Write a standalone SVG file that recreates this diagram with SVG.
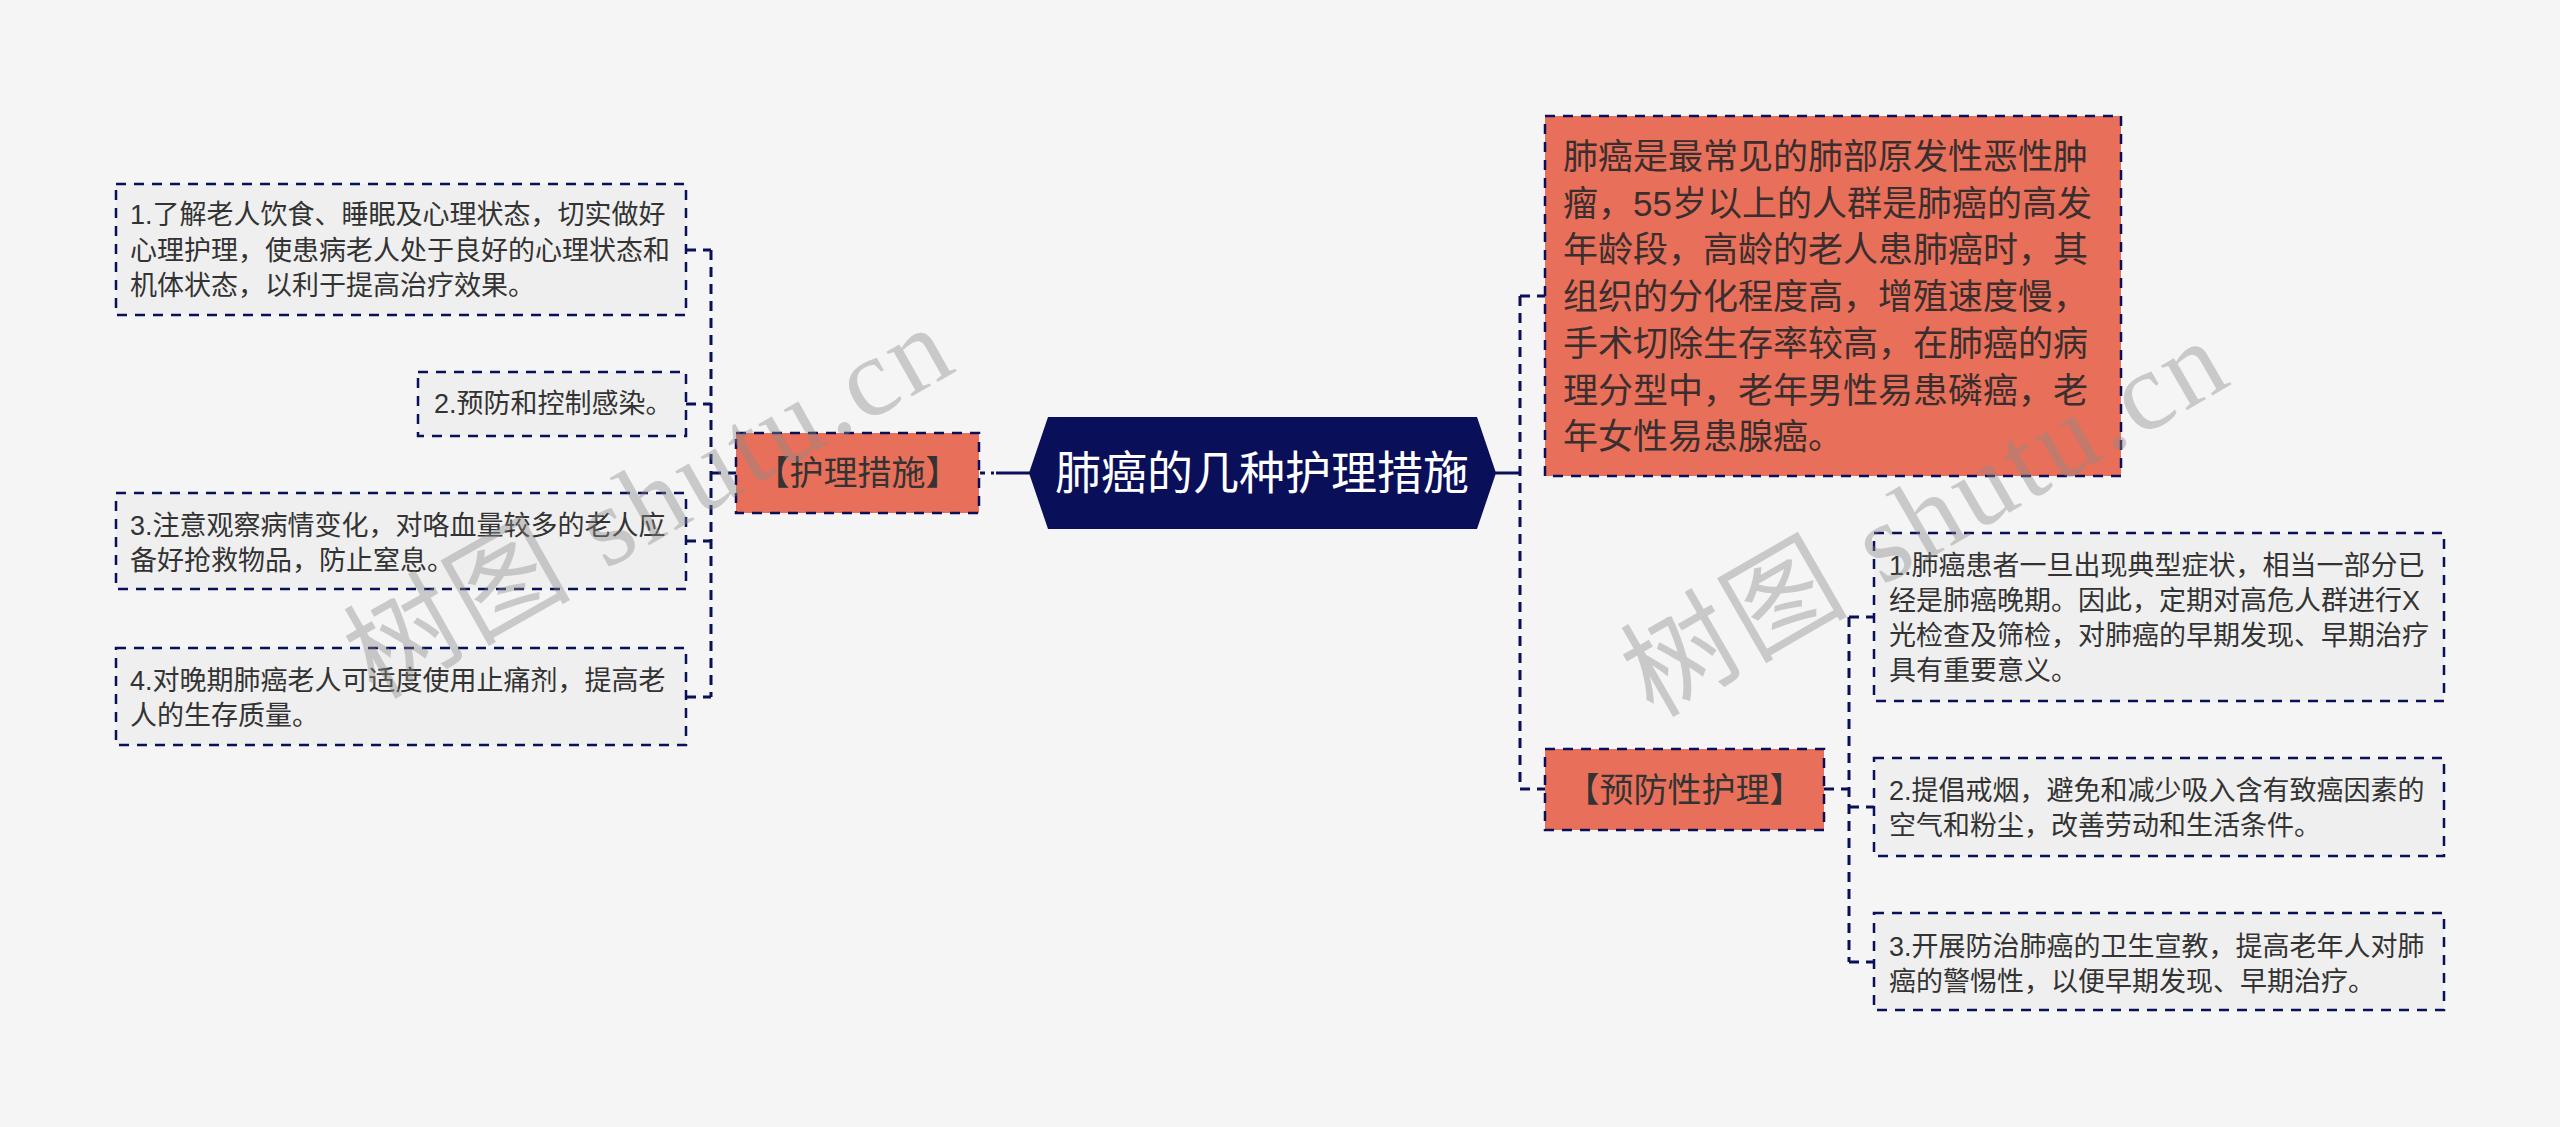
<svg xmlns="http://www.w3.org/2000/svg" width="2560" height="1127" viewBox="0 0 2560 1127">
<style>
  .leaf { fill: #EFEFEF; stroke: #0A0F5A; stroke-width: 2.5; stroke-dasharray: 10 8; }
  .sub { fill: #E8705A; stroke: #0A0F5A; stroke-width: 2.5; stroke-dasharray: 10 8; }
  .conn { fill: none; stroke: #0A0F5A; stroke-width: 3; stroke-dasharray: 10 7; }
  .solid { fill: none; stroke: #0A0F5A; stroke-width: 3; }
  .t27 { font-family: "Liberation Sans", "Noto Sans CJK SC", sans-serif; font-size: 27px; fill: #333333; dominant-baseline: central; }
  .t35 { font-family: "Liberation Sans", "Noto Sans CJK SC", sans-serif; font-size: 35px; fill: #3A2E2E; dominant-baseline: central; }
  .t34 { font-family: "Liberation Sans", "Noto Sans CJK SC", sans-serif; font-size: 34px; fill: #333333; dominant-baseline: central; text-anchor: middle; }
  .tc { font-family: "Liberation Sans", "Noto Sans CJK SC", sans-serif; font-size: 46px; fill: #FFFFFF; dominant-baseline: central; text-anchor: middle; }
  .wm { font-family: "Liberation Serif", "Noto Sans CJK SC", serif; font-size: 112px; fill: #8A8A8A; opacity: 0.4; text-anchor: middle; dominant-baseline: central; }
</style>
<rect x="0" y="0" width="2560" height="1127" fill="#F5F5F5"/>

<g id="connectors">
  <path class="conn" d="M711,250 V697"/>
  <path class="conn" d="M686,250 H711"/>
  <path class="conn" d="M686,404 H711"/>
  <path class="conn" d="M686,541 H711"/>
  <path class="conn" d="M686,697 H711"/>
  <path class="conn" d="M711,473 H736"/>
  <path class="conn" d="M980,473 H994" style="stroke-dasharray:5 6"/>
  <path class="solid" d="M996,473 H1030"/>
  <path class="solid" d="M1495,473 H1520"/>
  <path class="conn" d="M1520,296 V789"/>
  <path class="conn" d="M1520,296 H1545"/>
  <path class="conn" d="M1520,789 H1545"/>
  <path class="conn" d="M1824,789 H1849"/>
  <path class="conn" d="M1849,617 V962"/>
  <path class="conn" d="M1849,617 H1874"/>
  <path class="conn" d="M1849,807 H1874"/>
  <path class="conn" d="M1849,962 H1874"/>
</g>

<g id="root">
  <polygon points="1029,473 1048,417 1477,417 1496,473 1477,529 1048,529" fill="#0A0F5A"/>
  <text class="tc" x="1262" y="473">肺癌的几种护理措施</text>
</g>

<g id="n-huli">
  <rect class="sub" x="736" y="433" width="243" height="80"/>
  <text class="t34" x="857.5" y="473">【护理措施】</text>
</g>

<g id="n-huli-1">
  <rect class="leaf" x="116" y="184" width="570" height="131"/>
  <text class="t27" x="130" y="215">1.了解老人饮食、睡眠及心理状态，切实做好</text>
  <text class="t27" x="130" y="250.5">心理护理，使患病老人处于良好的心理状态和</text>
  <text class="t27" x="130" y="286">机体状态，以利于提高治疗效果。</text>
</g>

<g id="n-huli-2">
  <rect class="leaf" x="418" y="372" width="268" height="64"/>
  <text class="t27" x="434" y="404">2.预防和控制感染。</text>
</g>

<g id="n-huli-3">
  <rect class="leaf" x="116" y="493" width="570" height="96"/>
  <text class="t27" x="130" y="526">3.注意观察病情变化，对咯血量较多的老人应</text>
  <text class="t27" x="130" y="561">备好抢救物品，防止窒息。</text>
</g>

<g id="n-huli-4">
  <rect class="leaf" x="116" y="648" width="570" height="97"/>
  <text class="t27" x="130" y="681">4.对晚期肺癌老人可适度使用止痛剂，提高老</text>
  <text class="t27" x="130" y="716">人的生存质量。</text>
</g>

<g id="n-intro">
  <rect class="sub" x="1545" y="116" width="576" height="360"/>
  <text class="t35" x="1563" y="156.5">肺癌是最常见的肺部原发性恶性肿</text>
  <text class="t35" x="1563" y="203.2">瘤，55岁以上的人群是肺癌的高发</text>
  <text class="t35" x="1563" y="249.9">年龄段，高龄的老人患肺癌时，其</text>
  <text class="t35" x="1563" y="296.6">组织的分化程度高，增殖速度慢，</text>
  <text class="t35" x="1563" y="343.3">手术切除生存率较高，在肺癌的病</text>
  <text class="t35" x="1563" y="390">理分型中，老年男性易患磷癌，老</text>
  <text class="t35" x="1563" y="436.7">年女性易患腺癌。</text>
</g>

<g id="n-yufang">
  <rect class="sub" x="1545" y="749" width="279" height="81"/>
  <text class="t34" x="1684.5" y="789.5">【预防性护理】</text>
</g>

<g id="n-yufang-1">
  <rect class="leaf" x="1874" y="533" width="570" height="168"/>
  <text class="t27" x="1889" y="566">1.肺癌患者一旦出现典型症状，相当一部分已</text>
  <text class="t27" x="1889" y="601">经是肺癌晚期。因此，定期对高危人群进行X</text>
  <text class="t27" x="1889" y="636">光检查及筛检，对肺癌的早期发现、早期治疗</text>
  <text class="t27" x="1889" y="671">具有重要意义。</text>
</g>

<g id="n-yufang-2">
  <rect class="leaf" x="1874" y="758" width="570" height="98"/>
  <text class="t27" x="1889" y="791">2.提倡戒烟，避免和减少吸入含有致癌因素的</text>
  <text class="t27" x="1889" y="826">空气和粉尘，改善劳动和生活条件。</text>
</g>

<g id="n-yufang-3">
  <rect class="leaf" x="1874" y="913" width="570" height="97"/>
  <text class="t27" x="1889" y="947">3.开展防治肺癌的卫生宣教，提高老年人对肺</text>
  <text class="t27" x="1889" y="982">癌的警惕性，以便早期发现、早期治疗。</text>
</g>

<g id="watermarks">
  <text class="wm" transform="translate(648,502) rotate(-29.5)" textLength="670" lengthAdjust="spacing">树图 shutu.cn</text>
  <text class="wm" transform="translate(1924,518) rotate(-30)" textLength="670" lengthAdjust="spacing">树图 shutu.cn</text>
</g>
</svg>
